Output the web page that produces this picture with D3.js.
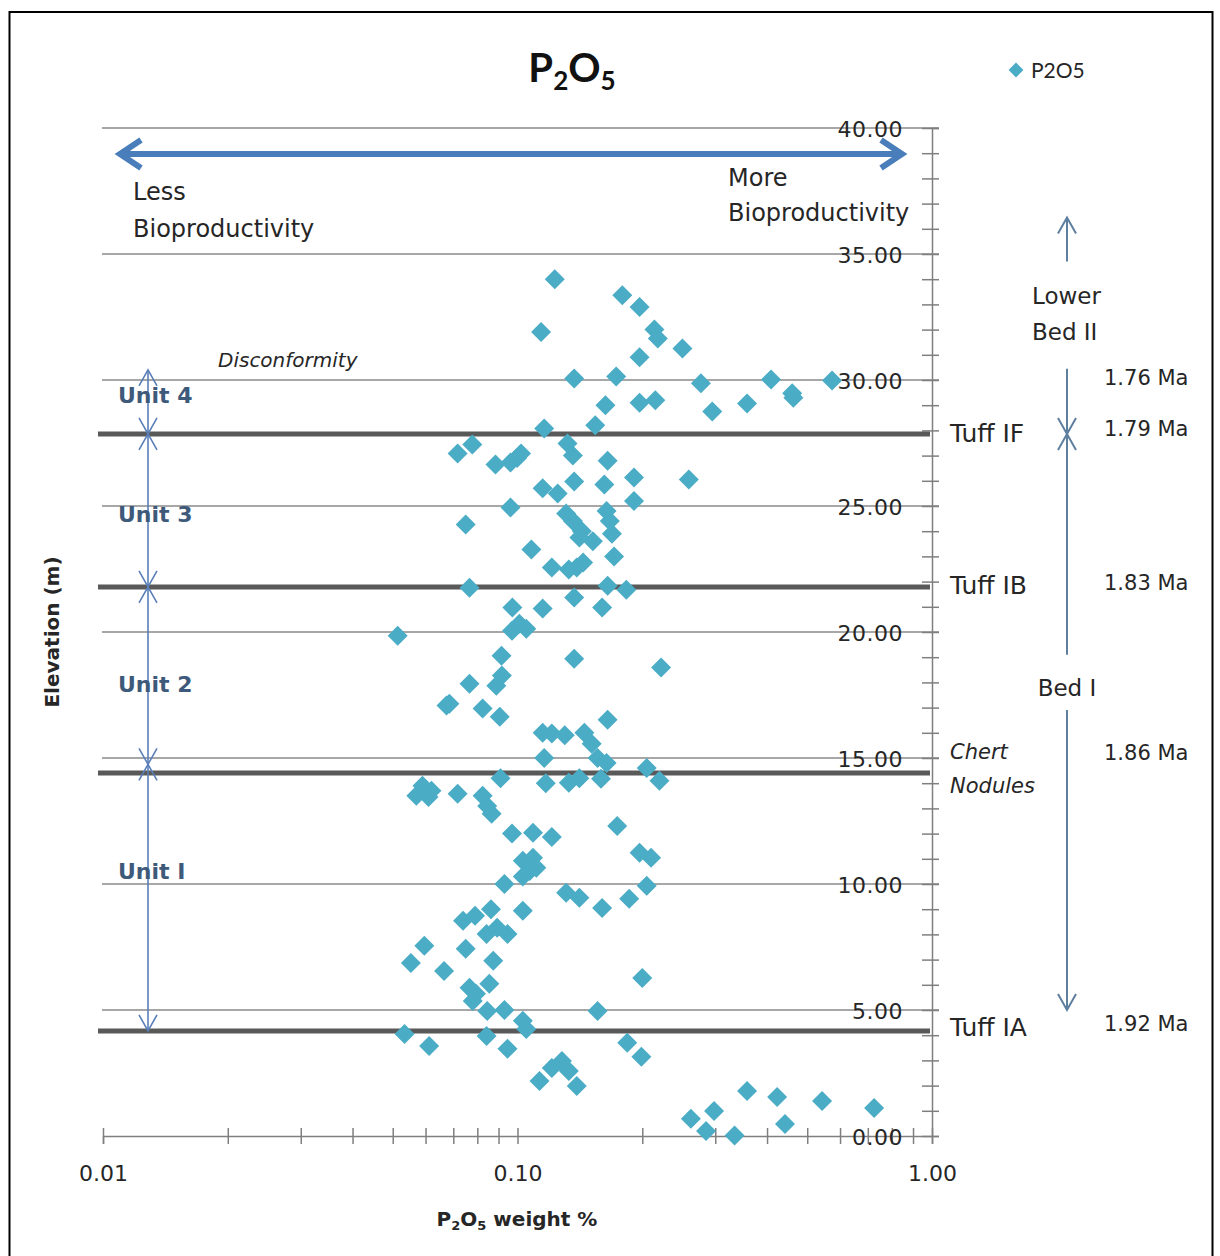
<!DOCTYPE html>
<html>
<head>
<meta charset="utf-8">
<script src="https://cdn.jsdelivr.net/npm/d3@7.9.0/dist/d3.min.js"></script>
<style>
  body { margin: 0; background: #fff; }
  svg { display: block; font-family: 'DejaVu Sans', sans-serif; }
</style>
</head>
<body>
<svg id="chart" width="1220" height="1256"></svg>
<script>
// elevation (m) and P2O5 weight %, top to bottom
const elevation = [
  34.0, 33.36, 32.9, 31.9, 32.0, 31.65, 31.25, 30.9, 30.06, 30.14, 29.87, 30.02, 29.47, 29.3, 29.98,
  29.0, 29.1, 29.2, 28.75, 29.07, 28.08, 28.2,
  27.08, 27.44, 26.65, 26.73, 27.08, 26.9, 27.48, 27.0, 26.8, 26.13, 26.05, 25.97, 25.7, 25.5, 25.85, 25.2,
  24.94, 24.27, 24.4, 24.0, 23.6, 24.8, 24.4, 23.9, 24.7, 23.75, 23.27, 23.0, 22.56, 22.48, 22.76, 22.56,
  21.76, 21.84, 21.68, 21.37, 20.93, 20.97, 20.97, 20.33, 20.13, 20.05, 19.85,
  19.06, 18.94, 18.59, 18.27, 17.87, 17.95, 17.08, 17.15, 16.96, 16.64, 16.52,
  16.0, 15.97, 15.9, 16.0, 15.57, 15.0, 14.8, 15.0, 14.6, 14.1, 14.2, 14.0, 14.02, 14.2, 14.18,
  13.9, 13.7, 13.5, 13.45, 13.58, 13.5, 13.1, 12.79, 12.3, 12.0, 12.03, 11.87,
  10.92, 11.04, 10.52, 10.3, 10.64, 11.24, 11.04, 10.0, 9.93, 9.65, 9.45, 9.05, 9.41,
  8.94, 9.0, 8.54, 8.74, 8.02, 8.26, 8.02, 7.55, 6.87, 7.43, 6.55, 6.95, 6.27,
  5.88, 5.64, 6.04, 5.36, 4.96, 5.0, 4.96, 4.57, 4.25,
  4.05, 3.57, 3.97, 3.46, 3.7, 3.14, 2.18, 2.7, 2.98, 2.58, 1.98,
  0.68, 0.99, 0.2, 0.02, 1.79, 1.55, 0.48, 1.39, 1.11
];
const p2o5 = [
  0.123, 0.179, 0.197, 0.114, 0.214, 0.218, 0.250, 0.197, 0.137, 0.173, 0.277, 0.409, 0.460, 0.463, 0.574,
  0.163, 0.197, 0.215, 0.295, 0.358, 0.116, 0.154,
  0.0717, 0.0778, 0.0885, 0.0962, 0.102, 0.0998, 0.132, 0.136, 0.165, 0.191, 0.259, 0.137, 0.115, 0.125, 0.162, 0.191,
  0.0962, 0.075, 0.136, 0.143, 0.152, 0.164, 0.167, 0.169, 0.131, 0.141, 0.108, 0.171, 0.121, 0.133, 0.144, 0.139,
  0.0766, 0.165, 0.183, 0.137, 0.115, 0.160, 0.0972, 0.101, 0.105, 0.097, 0.0514,
  0.0915, 0.137, 0.222, 0.0917, 0.0889, 0.0766, 0.0674, 0.0685, 0.0824, 0.0906, 0.165,
  0.115, 0.121, 0.130, 0.145, 0.151, 0.156, 0.164, 0.116, 0.205, 0.220, 0.091, 0.117, 0.133, 0.141, 0.159,
  0.059, 0.062, 0.057, 0.061, 0.0717, 0.0824, 0.0845, 0.0866, 0.174, 0.097, 0.109, 0.121,
  0.103, 0.109, 0.107, 0.103, 0.111, 0.197, 0.210, 0.093, 0.205, 0.131, 0.141, 0.160, 0.186,
  0.103, 0.0863, 0.0739, 0.079, 0.0842, 0.0893, 0.0946, 0.0596, 0.0553, 0.075, 0.0665, 0.0874, 0.200,
  0.0766, 0.0794, 0.0855, 0.078, 0.0845, 0.093, 0.156, 0.103, 0.105,
  0.0534, 0.0612, 0.0842, 0.0946, 0.184, 0.199, 0.113, 0.121, 0.128, 0.133, 0.139,
  0.262, 0.298, 0.285, 0.334, 0.358, 0.423, 0.442, 0.543, 0.725
];

const xMajorTicks = [0.01, 0.1, 1];
const xTickLabels = ['0.01', '0.10', '1.00'];
const yGridTicks = [0, 5, 10, 15, 20, 25, 30, 35, 40];

// marker beds (thick lines) and their labels
const bedNames = ['Tuff IF', 'Tuff IB', 'Chert', 'Tuff IA'];
const bedElev = [27.86, 21.79, 14.4, 4.17];

const unitNames = ['Unit 4', 'Unit 3', 'Unit 2', 'Unit I'];
const unitLabelElev = [29.4, 24.7, 17.95, 10.5];
const unitBounds = [30.4, 27.86, 21.79, 14.75, 4.17];

const ageLabels = ['1.76 Ma', '1.79 Ma', '1.83 Ma', '1.86 Ma', '1.92 Ma'];
const ageElev = [30.1, 28.1, 22.0, 15.25, 4.5];

const svg = d3.select('#chart');
const x = d3.scaleLog().domain([0.01, 1]).range([103, 932]);
const y = d3.scaleLinear().domain([0, 40]).range([1136, 128]);

const blue = '#4a7ebb';
const unitBlue = '#5a7fb8';
const textCol = '#262626';

// frame
svg.append('rect')
  .attr('x', 9.5).attr('y', 12).attr('width', 1203).attr('height', 1260)
  .attr('fill', 'none').attr('stroke', '#000').attr('stroke-width', 2);

// title
const title = svg.append('text')
  .attr('x', 572).attr('y', 82).attr('text-anchor', 'middle')
  .style('font-family', 'Lato, sans-serif').style('font-weight', 'bold').style('font-size', '40px')
  .attr('fill', '#111');
title.append('tspan').text('P');
title.append('tspan').text('2').style('font-size', '26px').attr('dy', 8);
title.append('tspan').text('O').attr('dy', -8);
title.append('tspan').text('5').style('font-size', '26px').attr('dy', 8);

// legend
svg.append('path')
  .attr('d', d3.symbol(d3.symbolSquare, 110)())
  .attr('transform', 'translate(1016,70) rotate(45)')
  .attr('fill', '#4bacc6');
svg.append('text').attr('x', 1031).attr('y', 78).text('P2O5')
  .style('font-family', 'Lato, sans-serif').style('font-size', '21px').attr('fill', textCol);

// gridlines
svg.append('g').selectAll('line').data(yGridTicks.slice(1)).join('line')
  .attr('x1', 102).attr('x2', 939)
  .attr('y1', d => y(d)).attr('y2', d => y(d))
  .attr('stroke', '#8a8a8a').attr('stroke-width', 1.3);

// x axis
const xMinor = [];
[0.01, 0.1].forEach(b => { for (let k = 2; k <= 9; k++) xMinor.push(b * k); });
const xAxis = svg.append('g').attr('transform', `translate(0,${y(0)})`)
  .call(d3.axisBottom(x).tickValues(xMajorTicks.concat(xMinor)).tickSize(8)
    .tickFormat(d => { const i = xMajorTicks.indexOf(d); return i >= 0 ? xTickLabels[i] : ''; }));
xAxis.select('.domain').attr('stroke', '#7f7f7f').attr('stroke-width', 1.5);
xAxis.selectAll('.tick line').attr('y1', -8).attr('y2', 8).attr('stroke', '#7f7f7f').attr('stroke-width', 1.5);
xAxis.selectAll('.tick text').attr('y', 29).attr('dy', '0.71em')
  .style('font-size', '22px').style('font-family', 'DejaVu Sans').attr('fill', textCol);

// y axis at the right edge, labels drawn on the left of it
const yAxis = svg.append('g').attr('transform', `translate(932,0)`)
  .call(d3.axisRight(y).ticks(40).tickSize(7)
    .tickFormat(d => d % 5 === 0 ? d3.format('.2f')(d) : ''));
yAxis.select('.domain').attr('stroke', '#7f7f7f').attr('stroke-width', 1.5);
yAxis.selectAll('.tick line').attr('x1', -10).attr('x2', 7).attr('stroke', '#7f7f7f').attr('stroke-width', 1.5);
yAxis.selectAll('.tick text').attr('x', -29).attr('dy', '0.4em').attr('text-anchor', 'end')
  .style('font-size', '22px').style('letter-spacing', '0.5px').style('font-family', 'DejaVu Sans').attr('fill', textCol);

// thick bed lines
svg.append('g').selectAll('line').data(bedElev).join('line')
  .attr('x1', 98).attr('x2', 930)
  .attr('y1', d => y(d)).attr('y2', d => y(d))
  .attr('stroke', '#595959').attr('stroke-width', 5);

// blue double arrow
const arrowY = 154;
const ga = svg.append('g').attr('stroke', blue).attr('stroke-width', 6).attr('fill', 'none')
  .attr('stroke-linecap', 'butt');
ga.append('line').attr('x1', 120).attr('x2', 902).attr('y1', arrowY).attr('y2', arrowY);
ga.append('path').attr('d', `M141,${arrowY - 14} L120,${arrowY} L141,${arrowY + 14}`).attr('stroke-linejoin', 'miter');
ga.append('path').attr('d', `M881,${arrowY - 14} L902,${arrowY} L881,${arrowY + 14}`).attr('stroke-linejoin', 'miter');

function addText(tx, ty, str, size, opts = {}) {
  return svg.append('text').attr('x', tx).attr('y', ty).text(str)
    .style('font-size', size + 'px')
    .style('font-style', opts.italic ? 'italic' : 'normal')
    .style('font-weight', opts.bold ? 'bold' : 'normal')
    .attr('text-anchor', opts.anchor || 'start')
    .attr('fill', opts.fill || textCol);
}
addText(133, 200, 'Less', 24);
addText(133, 237, 'Bioproductivity', 24);
addText(728, 186, 'More', 24);
addText(728, 221, 'Bioproductivity', 24);
addText(218, 367, 'Disconformity', 20, { italic: true });

// unit arrows
function arrowHead(g, ax, ay, dir) {
  // dir: -1 points up, 1 points down
  g.append('path').attr('d', `M${ax - 9},${ay - dir * 16} L${ax},${ay} L${ax + 9},${ay - dir * 16}`);
}
const gu = svg.append('g').attr('stroke', unitBlue).attr('stroke-width', 1.6).attr('fill', 'none');
const unitX = 148;
gu.append('line').attr('x1', unitX).attr('x2', unitX)
  .attr('y1', y(unitBounds[0])).attr('y2', y(unitBounds[unitBounds.length - 1]));
unitBounds.forEach((b, i) => {
  if (i > 0) arrowHead(gu, unitX, y(b), 1);
  if (i < unitBounds.length - 1) arrowHead(gu, unitX, y(b), -1);
});
unitNames.forEach((u, i) => {
  addText(118, y(unitLabelElev[i]) + 8, u, 22, { bold: true, fill: '#3e5a7a' });
});

// bed labels on the right
addText(950, y(bedElev[0]) + 8, bedNames[0], 25);
addText(950, y(bedElev[1]) + 7, bedNames[1], 25);
addText(950, y(bedElev[3]) + 5, bedNames[3], 25);
addText(950, 759, 'Chert', 21, { italic: true });
addText(950, 793, 'Nodules', 21, { italic: true });

// ages
ageLabels.forEach((a, i) => addText(1104, y(ageElev[i]) + 8, a, 21));

// bed arrows on the far right
const bedX = 1067;
const gb = svg.append('g').attr('stroke', '#5f7f9f').attr('stroke-width', 2).attr('fill', 'none');
gb.append('line').attr('x1', bedX).attr('x2', bedX).attr('y1', y(34.7)).attr('y2', y(36.45));
arrowHead(gb, bedX, y(36.45), -1);
gb.append('line').attr('x1', bedX).attr('x2', bedX).attr('y1', y(30.45)).attr('y2', y(bedElev[0]));
arrowHead(gb, bedX, y(bedElev[0]), 1);
arrowHead(gb, bedX, y(bedElev[0]), -1);
gb.append('line').attr('x1', bedX).attr('x2', bedX).attr('y1', y(bedElev[0])).attr('y2', y(19.1));
gb.append('line').attr('x1', bedX).attr('x2', bedX).attr('y1', y(16.9)).attr('y2', y(5.0));
arrowHead(gb, bedX, y(5.0), 1);
addText(1032, 304, 'Lower', 23);
addText(1032, 340, 'Bed II', 23);
addText(bedX, 696, 'Bed I', 23, { anchor: 'middle' });

// axis titles
const xt = svg.append('text').attr('x', 517).attr('y', 1226).attr('text-anchor', 'middle')
  .style('font-weight', 'bold').style('font-size', '20px').attr('fill', textCol);
xt.append('tspan').text('P');
xt.append('tspan').text('2').style('font-size', '13px').attr('dy', 4);
xt.append('tspan').text('O').attr('dy', -4);
xt.append('tspan').text('5').style('font-size', '13px').attr('dy', 4);
xt.append('tspan').text(' weight %').attr('dy', -4);

svg.append('text')
  .attr('transform', 'translate(59,632) rotate(-90)')
  .attr('text-anchor', 'middle')
  .style('font-weight', 'bold').style('font-size', '20px').attr('fill', textCol)
  .text('Elevation  (m)');

// data points
const pts = elevation.map((e, i) => ({ e, v: p2o5[i] }));
svg.append('g').selectAll('path').data(pts).join('path')
  .attr('d', d3.symbol(d3.symbolSquare, 200)())
  .attr('transform', d => `translate(${x(d.v)},${y(d.e)}) rotate(45)`)
  .attr('fill', '#4bacc6');
</script>
</body>
</html>
